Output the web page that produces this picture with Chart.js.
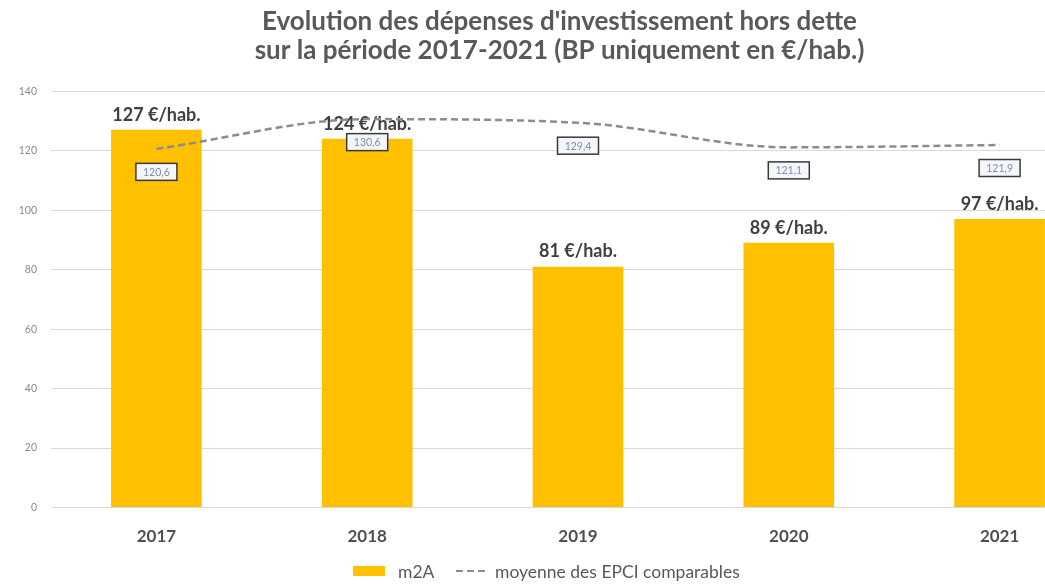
<!DOCTYPE html>
<html lang="fr">
<head>
<meta charset="utf-8">
<title>Dépenses d'investissement hors dette 2017-2021</title>
<script src="https://cdn.jsdelivr.net/npm/chart.js@4.4.1/dist/chart.umd.min.js"></script>
<style>
  html, body { margin: 0; padding: 0; background: #ffffff; }
  #wrap { width: 1045px; height: 584px; overflow: hidden; position: relative; }
  canvas { display: block; }
</style>
</head>
<body>
<div id="wrap"><canvas id="chart" width="1120" height="584"></canvas></div>
<script>
// Années et valeurs (en €/habitant)
const years = ['2017', '2018', '2019', '2020', '2021'];
const m2aValues = [127, 124, 81, 89, 97];
const epciValues = [120.6, 130.6, 129.4, 121.1, 121.9];
const yTickValues = [0, 20, 40, 60, 80, 100, 120, 140];

const FONT = 'Lato, "Noto Sans", sans-serif';
const GOLD = '#FFC000';
const LINE_GREY = '#8c8c8c';
const LINE_DASH = [7, 4];

const frNumber = v => v.toFixed(1).replace('.', ',');

// Étiquettes : montants m2A au-dessus des barres (sous la courbe), encadrés EPCI par-dessus
const valueLabels = {
  id: 'valueLabels',
  beforeDatasetDraw(chart, args) {
    if (args.index !== 1) return;
    const ctx = chart.ctx;
    const meta = chart.getDatasetMeta(0);
    ctx.save();
    ctx.font = 'bold 18px ' + FONT;
    ctx.fillStyle = '#404040';
    ctx.textAlign = 'center';
    ctx.textBaseline = 'bottom';
    meta.data.forEach((bar, i) => {
      ctx.fillText(m2aValues[i] + ' €/hab.', bar.x, bar.y - 6);
    });
    ctx.restore();
  },
  afterDatasetsDraw(chart) {
    const ctx = chart.ctx;
    const meta = chart.getDatasetMeta(1);
    ctx.save();
    ctx.font = '10.5px ' + FONT;
    ctx.textAlign = 'center';
    ctx.textBaseline = 'middle';
    meta.data.forEach((pt, i) => {
      const cx = pt.x, cy = pt.y + 23;
      const w = 41, h = 17;
      ctx.fillStyle = '#f4f6fa';
      ctx.fillRect(cx - w / 2, cy - h / 2, w, h);
      ctx.lineWidth = 1.5;
      ctx.strokeStyle = '#3a3a3a';
      ctx.strokeRect(cx - w / 2, cy - h / 2, w, h);
      ctx.fillStyle = '#7b8fb0';
      ctx.fillText(frNumber(epciValues[i]), cx, cy + 0.5);
    });
    ctx.restore();
  }
};

// Légende horizontale sous l'axe des années
const bottomLegend = {
  id: 'bottomLegend',
  afterDraw(chart) {
    const ctx = chart.ctx;
    const ds = chart.data.datasets;
    const y = 571;
    ctx.save();
    ctx.font = '17.5px ' + FONT;
    ctx.textBaseline = 'middle';
    ctx.textAlign = 'left';
    // série en barres : pavé doré
    ctx.fillStyle = GOLD;
    ctx.fillRect(353, y - 5, 32, 10);
    ctx.fillStyle = '#595959';
    ctx.fillText(ds[0].label, 398, y + 1);
    // série en courbe : tirets gris
    ctx.strokeStyle = LINE_GREY;
    ctx.lineWidth = 2;
    ctx.setLineDash(LINE_DASH);
    ctx.beginPath();
    ctx.moveTo(456, y);
    ctx.lineTo(486, y);
    ctx.stroke();
    ctx.setLineDash([]);
    ctx.fillText(ds[1].label, 495, y + 1);
    ctx.restore();
  }
};

new Chart(document.getElementById('chart'), {
  data: {
    labels: years,
    datasets: [
      {
        type: 'bar',
        label: 'm2A',
        data: m2aValues,
        backgroundColor: GOLD,
        borderWidth: 0,
        barPercentage: 0.43,
        categoryPercentage: 1.0,
        order: 2
      },
      {
        type: 'line',
        label: 'moyenne des EPCI comparables',
        data: epciValues,
        borderColor: LINE_GREY,
        backgroundColor: LINE_GREY,
        borderWidth: 2.5,
        borderDash: LINE_DASH,
        cubicInterpolationMode: 'monotone',
        pointRadius: 0,
        fill: false,
        order: 1
      }
    ]
  },
  options: {
    responsive: false,
    animation: false,
    devicePixelRatio: 1,
    layout: { padding: { left: 14, right: 15, top: 0, bottom: 18 } },
    plugins: {
      title: {
        display: true,
        text: ["Evolution des dépenses d'investissement hors dette",
               'sur la période 2017-2021 (BP uniquement en €/hab.)'],
        color: '#595959',
        font: { family: FONT, size: 26, weight: 'bold', lineHeight: 1.08 },
        padding: { top: 8, bottom: 27 }
      },
      legend: { display: false },
      tooltip: { enabled: false }
    },
    scales: {
      x: {
        grid: { display: false, drawTicks: false },
        border: { display: false },
        ticks: {
          color: '#505050',
          font: { family: FONT, size: 17, weight: 'bold' },
          padding: 19
        }
      },
      y: {
        min: 0,
        max: 140,
        afterBuildTicks(scale) {
          scale.ticks = yTickValues.map(v => ({ value: v }));
        },
        afterFit(scale) { scale.width = 37; },
        grid: { color: '#d9d9d9', lineWidth: 1, drawTicks: false },
        border: { display: false },
        ticks: {
          color: '#8a8a8a',
          font: { family: FONT, size: 10.5 },
          padding: 14
        }
      }
    }
  },
  plugins: [valueLabels, bottomLegend]
});
</script>
</body>
</html>
